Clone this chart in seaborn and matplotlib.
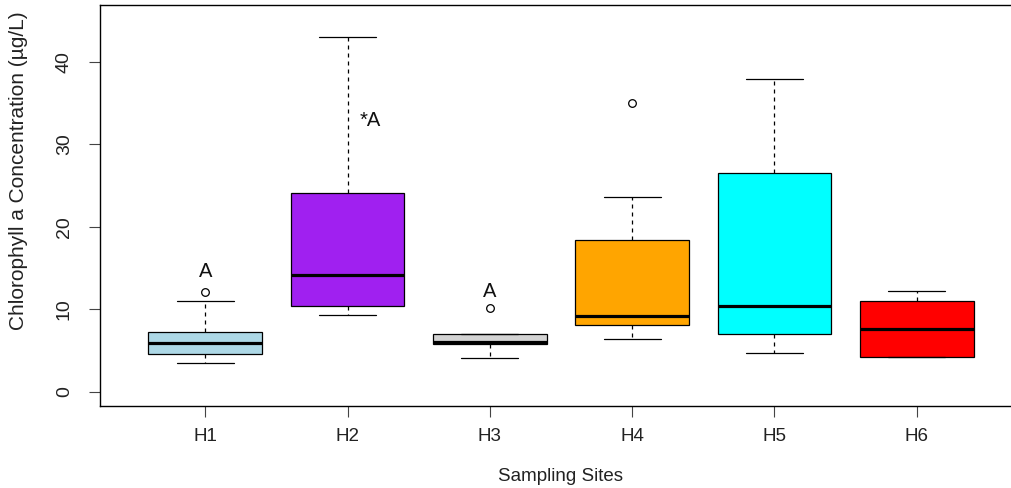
import numpy as np
import pandas as pd
import seaborn as sns
import matplotlib
matplotlib.use("Agg")
import matplotlib.pyplot as plt

# Chlorophyll a summary per sampling site (µg/L)
sites = ["H1", "H2", "H3", "H4", "H5", "H6"]
whisker_low = [3.5, 9.3, 4.1, 6.4, 4.65, 4.17]
q1 = [4.6, 10.4, 5.8, 8.1, 7.0, 4.17]
median = [5.9, 14.1, 6.0, 9.2, 10.4, 7.56]
q3 = [7.2, 24.1, 7.0, 18.35, 26.5, 11.0]
whisker_high = [11.0, 43.0, 7.0, 23.6, 37.9, 12.2]

# outlying observations
outlier_sites = ["H1", "H3", "H4"]
outlier_values = [12.1, 10.1, 35.0]

# significance letters
letter_sites = ["H1", "H2", "H3"]
letter_text = ["A", "*A", "A"]
letter_y = [14.6, 32.9, 12.1]

box_colors = ["#ADD8E6", "#A020F0", "#D3D3D3", "#FFA500", "#00FFFF", "#FF0000"]

sns.set_style("white")
plt.rcParams["font.family"] = ["Liberation Sans", "DejaVu Sans"]

# long-form table of the five-number summaries
rows = []
for s, lo, a, m, b, hi in zip(sites, whisker_low, q1, median, q3, whisker_high):
    for v in (lo, a, m, b, hi):
        rows.append({"site": s, "value": v})
df = pd.DataFrame(rows)

fig = plt.figure(figsize=(10.12, 4.88), dpi=100)
ax = fig.add_axes([100 / 1012, (488 - 405.7) / 488, 922 / 1012, 400.7 / 488])

sns.boxplot(
    data=df, x="site", y="value", hue="site", order=sites, hue_order=sites,
    palette=box_colors, saturation=1, width=0.8, whis=(0, 100),
    showfliers=False, linecolor="black", linewidth=0.9, legend=False, ax=ax,
    whiskerprops=dict(linestyle=(0, (3.2, 3.2))),
    capprops=dict(linestyle="-"),
    medianprops=dict(linewidth=2.3, color="black"),
)

sns.stripplot(
    x=outlier_sites, y=outlier_values, order=sites, jitter=False,
    color="white", edgecolor="black", linewidth=0.9, size=5.5, ax=ax, zorder=4,
)

for s, t, y in zip(letter_sites, letter_text, letter_y):
    xi = sites.index(s)
    if t.startswith("*"):
        ax.text(xi + 0.087, y, t, ha="left", va="center", fontsize=14.5, color="#111")
    else:
        ax.text(xi, y, t, ha="center", va="center", fontsize=14.5, color="#111")

ax.set_xlim(-0.74, 5.74)
ax.set_ylim(-1.70, 46.87)
ax.set_yticks([0, 10, 20, 30, 40])
ax.set_xticks(range(len(sites)))
ax.set_xticklabels(sites)

ax.tick_params(axis="y", length=8, width=0.8, color="#444", pad=11.5,
               labelsize=14, labelcolor="#222", labelrotation=90, left=True)
ax.tick_params(axis="x", length=8, width=0.8, color="#444", pad=8,
               labelsize=13.5, labelcolor="#222", bottom=True)
for lab in ax.get_yticklabels():
    lab.set_va("center")
    lab.set_ha("right")

for side in ("top", "left", "bottom"):
    ax.spines[side].set_visible(True)
    ax.spines[side].set_color("black")
    ax.spines[side].set_linewidth(1.0)
ax.spines["right"].set_visible(False)

ax.set_xlabel("Sampling Sites", fontsize=13.5, color="#222")
ax.xaxis.label.set_va("center")
ax.xaxis.set_label_coords(0.5, -0.1755)
ax.set_ylabel("Chlorophyll a Concentration (µg/L)", fontsize=15, color="#222")
ax.yaxis.label.set_va("center")
ax.yaxis.label.set_ha("center")
ax.yaxis.set_label_coords(-0.0889, 0.586)

fig.savefig("out.png", dpi=100, facecolor="white")
